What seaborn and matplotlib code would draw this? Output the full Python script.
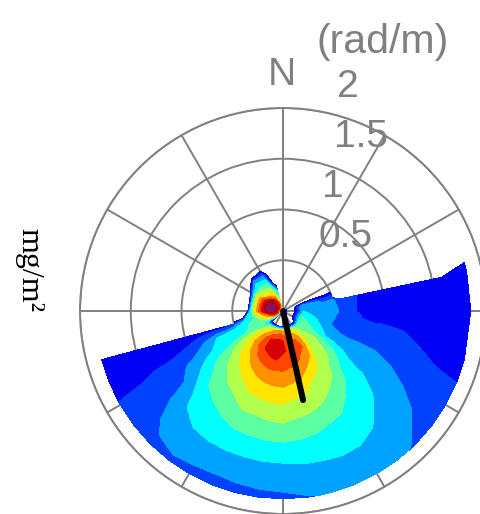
import numpy as np
import matplotlib
matplotlib.use("Agg")
import matplotlib.pyplot as plt
import seaborn as sns

nan = np.nan

# Directions of the spectral grid (degrees, clockwise from North)
directions = [60, 75, 78, 90, 105, 120, 127.5, 135, 142.5, 150, 157.5, 165, 172.5, 180,
              187.5, 195, 202.5, 210, 217.5, 225, 232.5, 240, 247.5, 255,
              270, 285, 300, 315, 330, 345]
# Wavenumbers of the spectral grid (rad/m)
wavenumbers = [0, 0.05, 0.1, 0.15, 0.2, 0.3, 0.4, 0.5, 0.6, 0.7, 0.8, 0.9,
               1.0, 1.2, 1.4, 1.6, 1.85]

# Spectral level, one profile (over wavenumbers) per direction
spectrum = [
    [2, 0, 0, -1, -2, -2, -2, -2, nan, nan, nan, nan, nan, nan, nan, nan, nan],             # 60
    [2, 0, 0, 1.5, 3.2, 2.9, 2.3, 2.4, nan, nan, nan, nan, nan, nan, nan, nan, 1.0],       # 75
    [2, 0, 0, 2.0, 3.5, 3.0, 2.5, 2.6, 2.0, 1.7, 1.2, 1.0, 1.0, 1.0, 1.0, 1.0, 1.0],       # 78
    [2, 0, 0, 1.5, 3.5, 3.0, 2.7, 2.9, 2.1, 1.6, 1.2, 1.0, 1.0, 1.0, 1.0, 1.0, 1.0],       # 90
    [2, 0, 0, 2.5, 4.5, 3.8, 3.2, 2.4, 2.0, 1.9, 2.0, 2.0, 2.0, 1.8, 1.5, 1.2, 1.0],       # 105
    [2, 0, 0, 2.5, 5.0, 4.6, 3.9, 3.4, 3.15, 3.05, 3.0, 2.95, 2.9, 2.65, 2.35, 2.1, 2.0],  # 120
    [2, 0, 0, 1.5, 5.0, 5.1, 5.3, 5.0, 4.6, 4.1, 3.6, 3.5, 3.45, 3.2, 2.85, 2.5, 2.2],     # 127.5
    [2, 0, 0, 0.5, 4.8, 5.65, 5.85, 5.8, 5.6, 5.13, 4.5, 4.28, 4.07, 3.63, 3.24, 2.87, 2.4],  # 135
    [2, 0, 0, 0, 5.5, 6.4, 6.4, 6.1, 5.9, 5.7, 5.48, 5.0, 4.55, 4.0, 3.6, 3.2, 2.7],       # 142.5
    [2, 0, 0, 0, 5.9, 7.8, 8.4, 7.7, 6.86, 6.27, 5.9, 5.52, 5.1, 4.35, 3.85, 3.3, 2.6],    # 150
    [2, 0, 0, 0, 6.8, 8.5, 8.8, 8.2, 7.55, 6.7, 6.2, 5.8, 5.45, 4.5, 3.85, 3.35, 2.65],    # 157.5
    [2, 0, 0, 0, 6.5, 8.8, 9.3, 8.75, 8.06, 7.43, 6.71, 6.17, 5.69, 4.7, 3.93, 3.25, 2.55],  # 165
    [2, 0, 0, 0, 7.5, 9.2, 9.4, 8.9, 8.25, 7.6, 6.95, 6.3, 5.8, 4.85, 3.95, 3.2, 2.45],    # 172.5
    [2, 0, 0, 0, 7.8, 9.5, 9.6, 9.1, 8.45, 7.81, 7.21, 6.62, 6.06, 5.0, 3.91, 3.08, 2.3],  # 180
    [2, 0, 0, 0, 8.0, 9.8, 10.2, 9.4, 8.45, 7.75, 7.15, 6.55, 5.95, 4.95, 3.9, 3.05, 2.25],  # 187.5
    [2, 0, 0, 0, 7.8, 9.65, 10.2, 9.17, 8.35, 7.64, 7.03, 6.44, 5.79, 4.83, 3.88, 3.0, 2.2],  # 195
    [2, 0, 0, 0, 7.3, 9.6, 9.7, 8.9, 8.1, 7.4, 6.85, 6.3, 5.75, 4.75, 3.85, 3.0, 2.1],     # 202.5
    [2, 0, 0, 0, 6.8, 8.7, 9.2, 8.5, 7.67, 7.0, 6.4, 5.8, 5.3, 4.5, 3.8, 3.0, 2.2],        # 210
    [2, 0, 0, 0, 5.8, 7.9, 8.3, 7.7, 7.05, 6.5, 5.95, 5.45, 4.95, 4.25, 3.65, 3.05, 2.3],  # 217.5
    [2, 0, 0, 0.5, 5.2, 6.8, 7.3, 6.9, 6.45, 5.9, 5.37, 4.93, 4.63, 3.93, 3.3, 2.8, 2.2],  # 225
    [2, 3, 5, 2, 3.5, 5.6, 6.2, 5.9, 5.45, 5.0, 4.65, 4.2, 3.7, 2.6, 2.45, 2.2, 2.0],      # 232.5
    [2, 8, 7.5, 6.0, 5.0, 4.8, 4.5, 4.2, 4.1, 3.8, 3.55, 3.2, 2.8, 2.2, 2.0, 1.65, 1.55],  # 240
    [2, 8.5, 9.2, 7.5, 5.8, 4.9, 4.3, 4.0, 3.8, 3.55, 2.8, 2.2, 1.7, 1.35, 1.25, 1.2, 1.2],  # 247.5
    [2, 9, 10.8, 8.5, 7.0, 4.5, 3.5, 1.8, 1.0, 1.0, 1.0, 1.0, 1.0, 1.0, 1.0, 1.0, 1.0],    # 255
    [2, 9.5, 11.8, 11.8, 10.0, 6.2, -6, nan, nan, nan, nan, nan, nan, nan, nan, nan, nan],  # 270
    [2, 10.5, 12.3, 12.2, 10.2, 5.5, -6, nan, nan, nan, nan, nan, nan, nan, nan, nan, nan],  # 285
    [2, 10.0, 11.8, 11.6, 9.8, 6.0, -2, nan, nan, nan, nan, nan, nan, nan, nan, nan, nan],  # 300
    [2, 9.5, 10.5, 10.5, 7.5, 5.0, 3.0, -3, nan, nan, nan, nan, nan, nan, nan, nan, nan],  # 315
    [2, 9.0, 9.8, 8.0, 6.8, 4.8, 2.5, -1.5, nan, nan, nan, nan, nan, nan, nan, nan, nan],  # 330
    [2, 7.0, 5.5, 4.5, 3.5, -2, -3, nan, nan, nan, nan, nan, nan, nan, nan, nan, nan],     # 345
]

level_bounds = [0.5, 1.5, 2.5, 3.5, 4.5, 5.5, 6.5, 7.5, 8.5, 9.5, 10.5, 11.5, 12.5]
level_colors = ['#0000F2', '#0042FF', '#00A2FF', '#00FFFF', '#5CFFA2', '#B2FF4C',
                '#FFE600', '#FF9000', '#FF4400', '#D80000', '#A00010', '#8C1060']

ring_values = [0.5, 1.0, 1.5, 2.0]
ring_labels = ['0.5', '1', '1.5', '2']
spoke_angles = [0, 30, 60, 90, 120, 150, 180, 210, 240, 270, 300, 330]

wind_direction = 167.3   # degrees
wind_length = 0.9        # rad/m

sns.set_style("white")
plt.rcParams['font.family'] = ['Liberation Sans', 'DejaVu Sans']

fig = plt.figure(figsize=(4.8, 5.14), dpi=100)
ax = fig.add_axes([80 / 480, 0.0, 406 / 480, 406 / 514], projection='polar')
ax.set_theta_zero_location('N')
ax.set_theta_direction(-1)
ax.set_ylim(0, 2)
ax.set_yticks(ring_values)
ax.set_yticklabels([])
ax.set_xticks(np.deg2rad(spoke_angles))
ax.set_xticklabels([])
ax.set_axisbelow(True)
ax.grid(True, color='#808080', lw=1.4)
ax.spines['polar'].set_color('#808080')
ax.spines['polar'].set_linewidth(1.4)

T, R = np.meshgrid(np.deg2rad(directions), wavenumbers)
Z = np.ma.masked_invalid(np.array(spectrum, dtype=float).T)
palette = sns.color_palette(level_colors)
ax.contourf(T, R, Z, levels=level_bounds, colors=palette, zorder=1)

ax.plot([np.deg2rad(wind_direction)] * 2, [0, wind_length], color='black',
        lw=4.3, solid_capstyle='round', zorder=3)

gray = '#808080'
label_pos = {'0.5': (44.1, 0.878), '1': (23.8, 1.228), '1.5': (25.3, 1.787), '2': (16.8, 2.202)}
for lab in ring_labels:
    th, rr = label_pos[lab]
    ax.text(np.deg2rad(th), rr, lab, color=gray, fontsize=28, ha='center', va='baseline',
            clip_on=False, zorder=4)
ax.text(np.deg2rad(-0.25), 2.227, 'N', color=gray, fontsize=28, ha='center', va='baseline',
        clip_on=False)
ax.text(np.deg2rad(21.2), 2.726, '(rad/m)', color=gray, fontsize=29.5, ha='center',
        va='baseline', clip_on=False)

fig.text(29 / 480, 1 - 270 / 514, 'mg/m²', rotation=-90, ha='center', va='center',
         fontsize=23, family=['Liberation Serif', 'DejaVu Serif'], color='black')

fig.savefig('out.png', dpi=100)
